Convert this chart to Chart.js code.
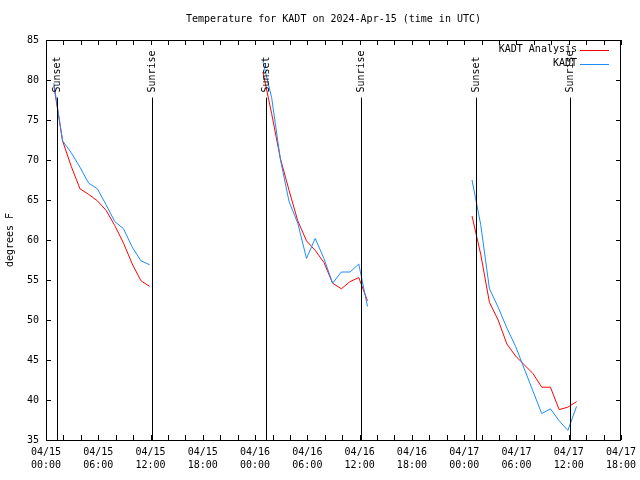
<!DOCTYPE html>
<html lang="en">
<head>
    <meta charset="UTF-8">
    <title>Temperature for KADT</title>
    <script src="https://cdn.jsdelivr.net/npm/chart.js"></script>
    <style>
        body { margin: 0; background: #fff; }
        canvas { display: block; }
    </style>
</head>
<body>
    <canvas id="tempChart" width="640" height="480"></canvas>

    <script>
        // hours after 04/15 00:00 UTC of the first hourly obs of each night
        const nightStartHours = [0.9, 24.9, 48.9];

        const analysisNight1 = [79.3, 72.4, 69.2, 66.4, 65.7, 64.9, 63.7, 61.8, 59.6, 57.0, 54.9, 54.2];
        const analysisNight2 = [81.0, 75.8, 70.2, 66.2, 62.4, 59.9, 58.7, 57.2, 54.6, 53.9, 54.8, 55.3, 52.4];
        const analysisNight3 = [63.0, 58.2, 52.2, 50.0, 47.0, 45.5, 44.4, 43.3, 41.6, 41.6, 38.8, 39.1, 39.8];

        const kadtNight1 = [79.6, 72.4, 70.9, 69.1, 67.1, 66.4, 64.4, 62.3, 61.4, 59.1, 57.4, 56.9];
        const kadtNight2 = [82.3, 77.8, 70.1, 64.8, 62.1, 57.7, 60.2, 57.7, 54.6, 56.0, 56.0, 57.0, 51.7];
        const kadtNight3 = [67.5, 61.9, 53.9, 51.6, 49.0, 46.7, 43.9, 41.1, 38.3, 38.9, 37.4, 36.2, 39.2];

        const sunsetHours = [1.25, 25.3, 49.4];
        const sunriseHours = [12.2, 36.2, 60.14];

        const xTickHours = [0, 6, 12, 18, 24, 30, 36, 42, 48, 54, 60, 66];
        const yTicks = [35, 40, 45, 50, 55, 60, 65, 70, 75, 80, 85];

        const FONT = "DejaVu Sans Mono";

        function buildSeries(nights) {
            let pts = [];
            nights.forEach((vals, n) => {
                vals.forEach((v, k) => pts.push({ x: nightStartHours[n] + k, y: v }));
                pts.push({ x: nightStartHours[n] + vals.length, y: null });
            });
            return pts;
        }

        function hourLabel(h) {
            let day = 15 + Math.floor(h / 24);
            let hh = h % 24;
            return ["04/" + day, String(hh).padStart(2, "0") + ":00"];
        }

        // gnuplot-like frame, ticks, sun events, legend, title
        const frame = {
            id: "frame",
            afterDatasetsDraw(chart) {
                let ctx = chart.ctx;
                let a = chart.chartArea;
                let xs = chart.scales.x, ys = chart.scales.y;
                ctx.save();
                ctx.strokeStyle = "#000";
                ctx.lineWidth = 1;

                // border
                ctx.strokeRect(a.left + 0.5, a.top + 0.5, a.right - a.left - 1, a.bottom - a.top);

                // x ticks every 2h, inward top and bottom
                ctx.beginPath();
                for (let h = 0; h <= 66; h += 2) {
                    let px = Math.round(xs.getPixelForValue(h)) + 0.5;
                    ctx.moveTo(px, a.bottom); ctx.lineTo(px, a.bottom - 5);
                    ctx.moveTo(px, a.top); ctx.lineTo(px, a.top + 5);
                }
                yTicks.forEach(v => {
                    let py = Math.round(ys.getPixelForValue(v)) + 0.5;
                    ctx.moveTo(a.left, py); ctx.lineTo(a.left + 5, py);
                    ctx.moveTo(a.right, py); ctx.lineTo(a.right - 5, py);
                });
                ctx.stroke();

                // sunset / sunrise lines with labels
                let lineTop = ys.getPixelForValue(77.8);
                ctx.fillStyle = "#000";
                ctx.font = "10px '" + FONT + "'";
                let events = sunsetHours.map(h => [h, "Sunset"]).concat(sunriseHours.map(h => [h, "Sunrise"]));
                events.forEach(([h, txt]) => {
                    let px = Math.round(xs.getPixelForValue(h)) + 0.5;
                    ctx.beginPath();
                    ctx.moveTo(px, a.bottom);
                    ctx.lineTo(px, lineTop);
                    ctx.stroke();
                    ctx.save();
                    ctx.translate(px, lineTop - 5);
                    ctx.rotate(-Math.PI / 2);
                    ctx.textAlign = "left";
                    ctx.textBaseline = "middle";
                    ctx.fillText(txt, 0, 0);
                    ctx.restore();
                });

                // legend, top right inside the plot
                chart.data.datasets.forEach((ds, i) => {
                    let y = a.top + 9.5 + i * 14;
                    ctx.textAlign = "right";
                    ctx.textBaseline = "middle";
                    ctx.fillStyle = "#000";
                    ctx.fillText(ds.label, a.right - 44, y);
                    ctx.strokeStyle = ds.borderColor;
                    ctx.beginPath();
                    ctx.moveTo(a.right - 41, Math.round(y) + 0.5);
                    ctx.lineTo(a.right - 12, Math.round(y) + 0.5);
                    ctx.stroke();
                });
                ctx.restore();
            },
            afterDraw(chart) {
                let ctx = chart.ctx;
                let a = chart.chartArea;
                ctx.save();
                ctx.fillStyle = "#000";
                ctx.font = "10px '" + FONT + "'";
                ctx.textAlign = "center";
                ctx.textBaseline = "middle";
                ctx.fillText("Temperature for KADT on 2024-Apr-15 (time in UTC)", (a.left + a.right) / 2, 19);
                ctx.translate(10, (a.top + a.bottom) / 2);
                ctx.rotate(-Math.PI / 2);
                ctx.fillText("degrees F", 0, 0);
                ctx.restore();
            }
        };

        let ctx = document.getElementById("tempChart").getContext("2d");
        new Chart(ctx, {
            type: "line",
            data: {
                datasets: [
                    {
                        label: "KADT Analysis",
                        data: buildSeries([analysisNight1, analysisNight2, analysisNight3]),
                        borderColor: "#ff0000",
                        borderWidth: 1,
                        pointRadius: 0,
                        tension: 0,
                        spanGaps: false,
                        order: 1
                    },
                    {
                        label: "KADT",
                        data: buildSeries([kadtNight1, kadtNight2, kadtNight3]),
                        borderColor: "#1a8cff",
                        borderWidth: 1,
                        pointRadius: 0,
                        tension: 0,
                        spanGaps: false,
                        order: 0
                    }
                ]
            },
            options: {
                responsive: false,
                animation: false,
                layout: { padding: { top: 40, right: 19, left: 0, bottom: 0 } },
                plugins: {
                    legend: { display: false },
                    tooltip: { enabled: false }
                },
                scales: {
                    x: {
                        type: "linear",
                        min: 0,
                        max: 66,
                        afterBuildTicks: s => { s.ticks = xTickHours.map(v => ({ value: v })); },
                        afterFit: s => { s.height = 40; s.paddingLeft = 0; s.paddingRight = 0; },
                        ticks: {
                            autoSkip: false,
                            maxRotation: 0,
                            padding: 6,
                            color: "#000",
                            font: { family: FONT, size: 10, lineHeight: 1.3 },
                            callback: v => hourLabel(v)
                        },
                        grid: { display: false, drawTicks: false },
                        border: { display: false }
                    },
                    y: {
                        min: 35,
                        max: 85,
                        afterBuildTicks: s => { s.ticks = yTicks.map(v => ({ value: v })); },
                        afterFit: s => { s.width = 46; },
                        ticks: {
                            padding: 7,
                            color: "#000",
                            font: { family: FONT, size: 10 }
                        },
                        grid: { display: false, drawTicks: false },
                        border: { display: false }
                    }
                }
            },
            plugins: [frame]
        });
    </script>
</body>
</html>
